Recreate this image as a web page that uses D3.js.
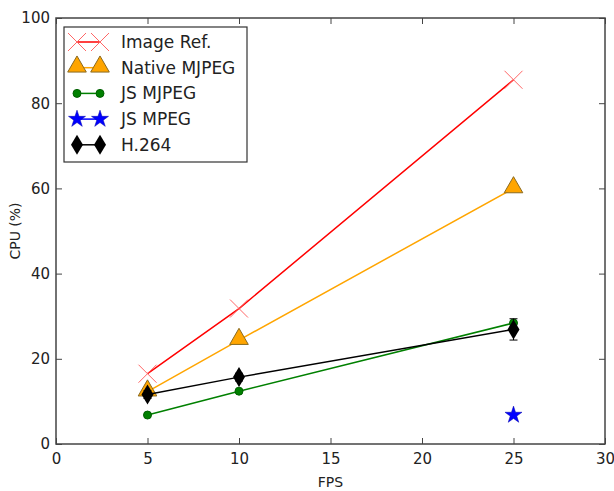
<!DOCTYPE html>
<html>
<head>
<meta charset="utf-8">
<script src="https://cdnjs.cloudflare.com/ajax/libs/d3/7.8.5/d3.min.js"></script>
<style>
  body { margin: 0; background: #fff; }
  text { font-family: "DejaVu Sans", sans-serif; fill: #222; }
</style>
</head>
<body>
<div id="chart"></div>
<script>
// data
const fps = [5, 10, 25];
const imageRef = [16.5, 31.8, 85.5];
const nativeMjpeg = [12.3, 24.4, 60.0];
const jsMjpeg = [6.8, 12.4, 28.4];
const jsMpegFps = [25];
const jsMpeg = [6.8];
const h264 = [11.6, 15.7, 26.9];
const h264Err = [0.9, 0.9, 2.5];
const xTicks = [0, 5, 10, 15, 20, 25, 30];
const yTicks = [0, 20, 40, 60, 80, 100];

let margin = { top: 18, right: 9, bottom: 47, left: 56 };
let width = 614 - margin.left - margin.right;
let height = 491 - margin.top - margin.bottom;

let svg = d3.select("#chart")
    .append("svg")
    .attr("width", 614)
    .attr("height", 491);
let g = svg.append("g")
    .attr("transform", "translate(" + margin.left + "," + margin.top + ")");

let x = d3.scaleLinear().domain([0, 30]).range([0, width]);
let y = d3.scaleLinear().domain([0, 100]).range([height, 0]);

// axes with inward ticks on all sides
function styleAxis(sel) {
    sel.select(".domain").remove();
    sel.selectAll("line").attr("stroke", "#444");
    sel.selectAll("text").style("font-size", "15px").attr("fill", "#222");
}
g.append("g").attr("transform", "translate(0," + height + ")")
    .call(d3.axisBottom(x).tickValues(xTicks).tickSizeInner(-6).tickSizeOuter(0).tickPadding(9))
    .call(styleAxis);
g.append("g")
    .call(d3.axisLeft(y).tickValues(yTicks).tickSizeInner(-6).tickSizeOuter(0).tickPadding(6))
    .call(styleAxis);
g.append("g")
    .call(d3.axisTop(x).tickValues(xTicks).tickSizeInner(-6).tickSizeOuter(0).tickFormat(""))
    .call(styleAxis);
g.append("g").attr("transform", "translate(" + width + ",0)")
    .call(d3.axisRight(y).tickValues(yTicks).tickSizeInner(-6).tickSizeOuter(0).tickFormat(""))
    .call(styleAxis);

g.append("rect")
    .attr("width", width).attr("height", height)
    .attr("fill", "none").attr("stroke", "#444").attr("stroke-width", 1.5);

g.append("text")
    .attr("x", width / 2).attr("y", height + 43)
    .attr("text-anchor", "middle").style("font-size", "14px")
    .text("FPS");
g.append("text")
    .attr("transform", "translate(-36," + (height / 2) + ") rotate(-90)")
    .attr("text-anchor", "middle").style("font-size", "14px")
    .text("CPU (%)");

// marker drawing
function marker(sel, type) {
    if (type === "x") {
        sel.append("path").attr("d", "M-9,-9L9,9M-9,9L9,-9")
            .attr("stroke", "#ff6666").attr("stroke-width", 1).attr("fill", "none");
    } else if (type === "tri") {
        sel.append("path").attr("d", d3.symbol(d3.symbolTriangle, 150)())
            .attr("transform", "translate(0,-1)")
            .attr("fill", "#ffa500").attr("stroke", "#8a6a20").attr("stroke-width", 1);
    } else if (type === "circle") {
        sel.append("circle").attr("r", 4).attr("fill", "#008000").attr("stroke", "#006000");
    } else if (type === "star") {
        sel.append("path").attr("d", d3.symbol(d3.symbolStar, 90)())
            .attr("fill", "#0000ff").attr("stroke", "#0000aa").attr("stroke-width", 0.5);
    } else if (type === "diamond") {
        sel.append("path").attr("d", "M0,-10L6,0L0,10L-6,0Z").attr("fill", "#000");
    }
}

let series = [
    { name: "Image Ref.", xs: fps, ys: imageRef, color: "#ff0000", m: "x" },
    { name: "Native MJPEG", xs: fps, ys: nativeMjpeg, color: "#ffa500", m: "tri" },
    { name: "JS MJPEG", xs: fps, ys: jsMjpeg, color: "#008000", m: "circle" },
    { name: "JS MPEG", xs: jsMpegFps, ys: jsMpeg, color: "#0000ff", m: "star" },
    { name: "H.264", xs: fps, ys: h264, color: "#000000", m: "diamond", err: h264Err }
];

let line = d3.line().x(d => x(d[0])).y(d => y(d[1]));

series.forEach(function (s) {
    let pts = s.xs.map((v, i) => [v, s.ys[i], s.err ? s.err[i] : 0]);
    g.append("path").datum(pts).attr("d", line)
        .attr("fill", "none").attr("stroke", s.color).attr("stroke-width", 1.5);
    if (s.err) {
        let eb = g.selectAll(null).data(pts).enter().append("g");
        eb.append("line")
            .attr("x1", d => x(d[0])).attr("x2", d => x(d[0]))
            .attr("y1", d => y(d[1] - d[2])).attr("y2", d => y(d[1] + d[2]))
            .attr("stroke", "#000").attr("stroke-width", 1);
        [-1, 1].forEach(function (sg) {
            eb.append("line")
                .attr("x1", d => x(d[0]) - 4).attr("x2", d => x(d[0]) + 4)
                .attr("y1", d => y(d[1] + sg * d[2])).attr("y2", d => y(d[1] + sg * d[2]))
                .attr("stroke", "#000").attr("stroke-width", 1);
        });
    }
    g.selectAll(null).data(pts).enter().append("g")
        .attr("transform", d => "translate(" + x(d[0]) + "," + y(d[1]) + ")")
        .each(function () { marker(d3.select(this), s.m); });
});

// legend
let legend = svg.append("g").attr("transform", "translate(64,27)");
legend.append("rect")
    .attr("width", 183).attr("height", 135)
    .attr("fill", "#fff").attr("stroke", "#333").attr("stroke-width", 1.2);
series.forEach(function (s, i) {
    let row = legend.append("g").attr("transform", "translate(0," + (15 + i * 25.7) + ")");
    row.append("line").attr("x1", 13).attr("x2", 36)
        .attr("stroke", s.color).attr("stroke-width", 1.5);
    marker(row.append("g").attr("transform", "translate(13,0)"), s.m);
    marker(row.append("g").attr("transform", "translate(36,0)"), s.m);
    row.append("text").attr("x", 57).attr("y", 6)
        .style("font-size", "17px").text(s.name);
});
</script>
</body>
</html>
